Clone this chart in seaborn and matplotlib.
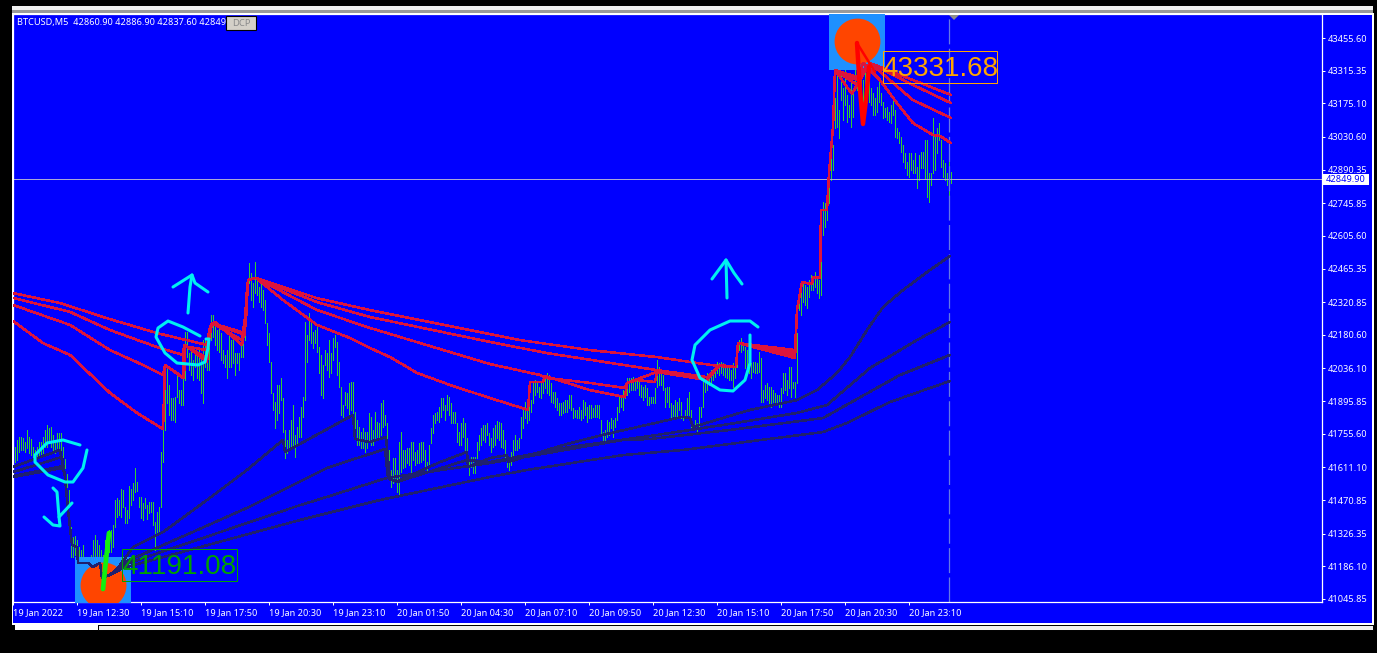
import numpy as np
import pandas as pd
import matplotlib
matplotlib.use("Agg")
import matplotlib.pyplot as plt
from matplotlib.patches import Rectangle, Polygon
from matplotlib.transforms import Affine2D
import seaborn as sns

# M5 bars, one per 5 minutes
HIGHS = [
    41673,41699,41729,41742,41742,41737,41720,41772,41742,41733,41699,41686,41699,41720,41720,41742,41772,41793,41780,41785,41750,41720,41759,41759,41759,41699,41647,41583,41514,41355,41312,41316,41299,
    41269,41256,41278,41226,41226,41222,41235,41299,41320,41299,41278,41256,41235,41299,41320,41342,41342,41363,41471,41480,41471,41518,41514,41441,41428,41531,41518,41544,41609,41549,41484,41484,41458,41480,41449,41462,41462,41462,41376,41419,41441,41677,41772,42051,42042,41965,
    41909,41909,41913,42008,41943,41943,42008,42193,42193,42102,
    42115,42072,42115,42102,42128,42085,42158,42158,42128,42167,
    42266,42266,42236,42201,42214,42188,42115,42094,42115,42188,
    42158,42171,42102,42102,42102,42158,42171,42300,42403,42489,
    42446,42403,42493,42429,42386,42425,42373,42330,42231,42188,
    42064,41931,41892,41965,41965,41995,41909,41772,41729,41772,
    41815,41879,41750,41785,41827,41870,41913,42236,
    42180,42274,42236,42193,42201,42214,42128,42094,42051,42115,
    42102,42158,42102,42167,42180,42150,42064,41956,41879,41935,
    41931,41974,41978,41978,41849,41815,41785,41763,41780,41763,
    41763,41845,41827,41772,41849,41806,41802,41888,41900,41836,
    41802,41686,41600,41651,41651,41600,41720,41763,41686,41686,
    41694,41694,41720,41720,41677,41686,41716,41720,41720,41686,
    41634,41707,41780,41836,41845,41849,41870,41909,41909,41879,
    41922,41913,41888,41849,41849,41802,41763,41802,41823,41802,
    41737,41643,41656,41656,41656,41720,41750,41780,41793,41793,
    41802,41759,
    41737,41780,41793,41810,41806,41802,41772,41729,41656,41651,
    41677,41729,41750,41729,41737,41827,41866,41892,41858,41879,
    41900,41978,41986,41974,41956,41978,41974,42008,42017,42008,
    41974,41935,41935,41909,41888,41888,41892,41900,41900,41922,
    41922,41866,41858,41858,41870,41858,41900,41892,41870,41879,
    41879,41866,41879,41879,41879,41815,41763,41772,41815,41806,
    41823,41815,41823,41870,41922,41909,41943,41974,41995,41995,
    41995,41999,41995,41995,41978,41965,41956,41965,41952,41913,
    41913,41913,41952,42072,42042,42017,42008,41952,41956,41956,
    41888,41879,41900,41892,41909,41892,41827,41858,41909,41935,
    41858,41793,41815,41802,41870,41870,41999,41978,42017,42017,
    42029,42021,42051,42064,42060,42064,42060,42051,42038,42038,
    42029,42060,42042,42115,42158,42167,42150,42128,42115,42115,
    42060,42064,42064,42060,42107,42081,41943,41965,41974,41956,
    41956,41943,41931,41922,41922,41952,42017,42017,41986,42042,
    42042,41978,41978,
    42188,42364,42373,42407,42395,42386,42416,42437,42429,42450,
    42425,42416,42575,42751,42747,42768,42876,42996,42996,43198,
    43310,43146,43310,43241,43318,43211,43168,43275,43219,43331,
    43348,43348,43318,43275,43305,43331,43288,43241,43219,43198,
    43245,43267,43219,43181,43155,43159,43138,43168,43198,43146,
    43069,43052,43030,42996,42961,42923,42961,42961,42932,42961,
    42901,42953,42966,42966,43017,43017,42876,42876,43112,43039,
    43069,43090,43017,42932,42919,42876,42932,42880,
]
LOWS = [
    41621,41634,41643,41677,41686,41686,41677,41694,41673,41664,41643,41621,41651,41656,41656,41673,41699,41699,41720,41699,41686,41673,41686,41677,41673,41651,41609,41527,41441,41226,41226,41235,41226,
    41192,41201,41201,41201,41192,41192,41192,41222,41226,41201,41170,41149,41127,41213,41235,41248,41248,41269,41355,41398,41407,41398,41441,41372,41372,41394,41449,41471,41505,41510,41441,41394,41385,41436,41389,41415,41419,41363,41256,41329,41333,41441,41634,41772,41888,41836,
    41815,41815,41806,41913,41888,41879,41879,41986,42085,42029,
    42008,41986,42042,41995,41986,41931,41888,42042,42029,42029,
    42158,42171,42137,42115,42107,42072,42060,42042,41995,42042,
    42042,42060,42008,42060,42029,42085,42085,42158,42287,42403,
    42330,42300,42360,42352,42322,42300,42287,42231,42137,42064,
    41931,41858,41780,41815,41845,41900,41763,41651,41673,41686,
    41699,41699,41656,41716,41742,41742,41827,41900,
    42064,42158,42145,42124,42145,42107,42017,41922,41909,42051,
    42029,41999,42017,42072,42128,42008,41956,41836,41827,41879,
    41866,41836,41858,41836,41737,41707,41707,41694,41694,41677,
    41694,41720,41707,41707,41737,41729,41742,41750,41785,41793,
    41686,41587,41527,41544,41557,41505,41492,41591,41609,41613,
    41630,41621,41591,41643,41621,41630,41630,41634,41643,41609,
    41591,41613,41716,41759,41802,41815,41806,41827,41858,41815,
    41858,41836,41802,41802,41802,41720,41707,41707,41742,41677,
    41643,41578,41613,41587,41587,41651,41686,41707,41729,41720,
    41750,41707,
    41677,41699,41707,41737,41729,41699,41694,41656,41613,41600,
    41621,41651,41686,41686,41694,41737,41780,41823,41802,41815,
    41849,41888,41922,41935,41913,41909,41931,41952,41931,41922,
    41892,41888,41870,41858,41836,41836,41845,41849,41849,41866,
    41858,41823,41827,41823,41823,41815,41823,41836,41806,41823,
    41823,41827,41827,41827,41823,41750,41720,41729,41742,41750,
    41780,41742,41785,41815,41849,41870,41858,41909,41922,41935,
    41943,41943,41943,41952,41922,41913,41900,41913,41879,41879,
    41888,41888,41888,41956,41965,41965,41943,41870,41892,41870,
    41823,41823,41827,41827,41858,41823,41815,41823,41836,41836,
    41785,41772,41780,41759,41785,41827,41870,41935,41943,41965,
    41974,41986,41999,42017,42008,42017,42008,41999,41995,41986,
    41986,41956,41995,42042,42115,42107,42115,42038,42029,42017,
    41995,42021,42017,42017,42021,41892,41892,41909,41900,41879,
    41870,41892,41879,41879,41870,41870,41931,41943,41922,41952,
    41913,41952,41913,
    41974,42287,42266,42322,42309,42296,42343,42373,42373,42386,
    42360,42339,42352,42609,42644,42674,42747,42846,42889,43069,
    43073,43026,43189,43103,43168,43095,43116,43073,43116,43241,
    43232,43232,43219,43176,43176,43181,43181,43168,43125,43125,
    43138,43181,43168,43112,43116,43103,43095,43090,43125,43030,
    43026,43004,42966,42923,42897,42867,42858,42889,42876,42876,
    42811,42846,42897,42897,42854,42772,42751,42824,42876,42889,
    42961,43017,42901,42858,42846,42824,42760,42833,
]

# moving averages (bar number, price) at their corners
RED_TAIL_I = [392,394.5,399.5,400,403.5,404,407,408,410,411]
RED_TAIL_P = [42287,42407,42399,42429,42425,42717,42717,42876,43073,43318]

RED_A_I = [0,23.5,48.5,72,97,99.5,116,116.5,117.5,121.5,152,178.5,238.5,253.5,288.5,322,338.5,352.5,361.5,362.5,391] + RED_TAIL_I + [422,428.5,450,469]
RED_A_P = [42360,42317,42248,42188,42137,42231,42188,42330,42416,42425,42338,42287,42184,42158,42115,42085,42064,42047,42042,42145,42115] + RED_TAIL_P + [43288,43348,43275,43211]
RED_B_I = [0,28.5,48.5,72,85,85.5,97,99.5,116,116.5,117.5,121.5,152,178.5,238.5,267,322,347,353.5,361.5,362.5,391] + RED_TAIL_I + [422,428.5,450,469]
RED_B_P = [42339,42279,42201,42128,42094,42132,42115,42231,42180,42330,42416,42425,42321,42257,42150,42102,42029,41999,42051,42042,42145,42107] + RED_TAIL_P + [43275,43348,43254,43176]
RED_C_I = [0,28.5,48.5,65,75,76,85,85.5,97,98,99.5,114.5,116.5,117.5,121.5,152,178.5,238.5,263.5,267,288.5,306,307,322,347,353.5,361.5,362.5,391] + RED_TAIL_I + [422,428.5,450,469]
RED_C_P = [42309,42223,42115,42051,42008,42051,41995,42137,42081,42201,42231,42158,42287,42416,42425,42287,42210,42055,42008,41995,41974,41952,41974,42021,41986,42051,42042,42145,42094] + RED_TAIL_P + [43254,43348,43189,43112]
RED_D_I = [0,15,28.5,48.5,62,75,76,85.5,86,97,98.5,101,114.5,116.5,117.5,121.5,135,152,168.5,178.5,188.5,202,218.5,238.5,257.5,258.5,265,266,288.5,306,307,312,321,322,347,353.5,361.5,362.5,391] + RED_TAIL_I + [419.5,422,425,433.5,442,450,460,463.5,469]
RED_D_P = [42240,42145,42094,41931,41845,41776,42051,41995,42137,42064,42214,42236,42137,42244,42416,42425,42330,42223,42167,42124,42085,42017,41965,41909,41858,41978,41978,42004,41943,41913,41974,41986,41978,42021,41986,42051,42042,42145,42081] + RED_TAIL_P + [43215,43254,43348,43275,43176,43090,43039,43035,43004]

DARK_DROP_I = [26,27.5,29.5,32,32.5,37.5,40,43.5,44.5,48.5]
DARK_DROP_P = [41570,41428,41278,41269,41201,41201,41183,41201,41136,41149]

DARK_A_I = [0,23.5] + DARK_DROP_I + [51,60,75,97,117,135,136,170,171,178.5,186.5,188.5,192.5,213.5,227,227.5,238.5,247,247.5,275,294.5,334.5,338.5,340,368.5,392,402,412,418.5,427,435,445,457,468.5]
DARK_A_P = [41613,41686] + DARK_DROP_P + [41162,41269,41333,41471,41600,41729,41677,41836,41733,41720,41742,41557,41553,41634,41677,41613,41651,41664,41634,41707,41750,41828,41823,41785,41858,41900,41943,42017,42085,42201,42300,42373,42450,42519]
DARK_B_I = [0,24.5] + DARK_DROP_I + [55,117,125,157,186,187.5,192,227,238.5,278.5,318.5,358.5,392,407,428.5,452,468.5]
DARK_B_P = [41591,41656] + DARK_DROP_P + [41201,41437,41471,41609,41690,41566,41549,41643,41634,41699,41746,41798,41845,41879,42038,42158,42236]
DARK_C_I = [0,25] + DARK_DROP_I + [55,143.5,152,187,238.5,305,318.5,358.5,405,418.5,443.5,468.5]
DARK_C_P = [41574,41617] + DARK_DROP_P + [41192,41449,41471,41566,41630,41729,41733,41772,41823,41888,42008,42094]
DARK_D_I = [0,25] + DARK_DROP_I + [55,143.5,183.5,238.5,257,305,335,405,417,438.5,468.5]
DARK_D_P = [41570,41609] + DARK_DROP_P + [41179,41385,41471,41570,41600,41664,41686,41763,41802,41892,41982]

PRICE_TICKS = [43455.60,43315.35,43175.10,43030.60,42890.35,42745.85,42605.60,42465.35,42320.85,42180.60,42036.10,41895.85,41755.60,41611.10,41470.85,41326.35,41186.10,41045.85]
TIME_LABELS = ["19 Jan 2022","19 Jan 12:30","19 Jan 15:10","19 Jan 17:50","19 Jan 20:30","19 Jan 23:10","20 Jan 01:50","20 Jan 04:30","20 Jan 07:10","20 Jan 09:50","20 Jan 12:30","20 Jan 15:10","20 Jan 17:50","20 Jan 20:30","20 Jan 23:10"]
LAST_PRICE = 42849.90
LOW_MARK = (45, 41106)
HIGH_MARK = (422, 43443)
LOW_BOX = (45, 41104)
HIGH_BOX = (422, 43440)

BLUE = "#0000ff"
GREEN = "#32cd32"
RED = "#dc143c"
DARK = "#20206e"
CYAN = "#00f0f0"
sns.set_theme(style="ticks")
plt.rcParams["font.family"] = ["Noto Sans", "DejaVu Sans"]

assert len(HIGHS) == len(LOWS)
fig = plt.figure(figsize=(13.77, 6.53), dpi=100, facecolor="black")
px = Affine2D().scale(1, -1).translate(0, 653)

# window around the chart, kept behind the axes
fig.add_artist(Rectangle((12, 6), 1361, 8, transform=px, fc="#f0f0f0", ec="none", zorder=-5))
fig.add_artist(Rectangle((12, 10), 1361, 3, transform=px, fc="#9a9a9a", ec="none", zorder=-5))
fig.add_artist(Rectangle((12, 13), 1362, 612, transform=px, fc="white", ec="none", zorder=-5))
fig.add_artist(Rectangle((13, 15), 1359, 608, transform=px, fc=BLUE, ec="none", zorder=-4))
fig.add_artist(Rectangle((15, 625), 83, 5, transform=px, fc="white", ec="none", zorder=-5))
fig.add_artist(Rectangle((98, 625), 1275, 5, transform=px, fc="#efefef", ec="black", lw=0.7, zorder=-5))

ax = fig.add_axes([13 / 1377, 1 - 602 / 653, 1309 / 1377, 588 / 653], facecolor=BLUE)

df_bars = pd.DataFrame({
    "bar": np.repeat(np.arange(len(HIGHS)), 2),
    "price": np.column_stack([LOWS, HIGHS]).ravel(),
})
sns.lineplot(data=df_bars, x="bar", y="price", units="bar", estimator=None, color=GREEN,
             linewidth=0.72, antialiased=False, ax=ax, zorder=2)

# highlighted extremes
for (i, p), (bi, bp) in [(LOW_MARK, LOW_BOX), (HIGH_MARK, HIGH_BOX)]:
    ax.scatter([bi], [bp], marker="s", s=1570, color="#1e90ff", linewidths=0, zorder=3)
    ax.scatter([i], [p], marker="o", s=1090, color="#ff4500", linewidths=0, zorder=3.1)


def draw_ma(xs, ys, color):
    df = pd.DataFrame({"bar": xs, "price": ys})
    sns.lineplot(data=df, x="bar", y="price", sort=False, estimator=None, color=color,
                 linewidth=1.1, antialiased=False, ax=ax, zorder=4)


for xs, ys in [(DARK_A_I, DARK_A_P), (DARK_B_I, DARK_B_P), (DARK_C_I, DARK_C_P), (DARK_D_I, DARK_D_P)]:
    draw_ma(xs, ys, DARK)
for xs, ys in [(RED_A_I, RED_A_P), (RED_B_I, RED_B_P), (RED_C_I, RED_C_P), (RED_D_I, RED_D_P)]:
    draw_ma(xs, ys, RED)

ax.axhline(LAST_PRICE, color="#a8a8d8", lw=0.72, zorder=2.5)
ax.axvline(468, color="#6478e6", lw=0.9, dashes=(20, 3.5), zorder=2.5)

ax.set_xlim(0, 654.5)
ax.set_ylim(41032.9, 43558.7)
ax.set_xlabel("")
ax.set_ylabel("")
ax.yaxis.tick_right()
ax.set_yticks(PRICE_TICKS, [f"{v:.2f}" for v in PRICE_TICKS])
ax.set_xticks(np.arange(len(TIME_LABELS)) * 32, TIME_LABELS, ha="left")
ax.tick_params(axis="both", colors="white", length=2.5, width=0.72, labelsize=6.6, pad=2)
for s in ax.spines.values():
    s.set_color("white")
    s.set_linewidth(0.9)
    s.set_visible(True)

# hand drawn notes and the objects lying on top of the chart
notes = [
    [(80,445),(63,440),(47,443),(35,455),(35,462),(48,475),(65,482),(73,482),(83,468),(87,450)],
    [(53,488),(57,492),(59,517),(72,503)],
    [(44,517),(53,525),(60,526),(59,517)],
    [(200,336),(183,327),(168,321),(158,328),(156,337),(165,353),(177,363),(198,365),(205,362),(208,348),(209,339),(206,339)],
    [(188,313),(190,287),(192,275)],
    [(173,287),(192,275),(195,283),(208,292)],
    [(758,327),(750,321),(730,321),(710,330),(695,345),(692,360),(700,378),(720,390),(733,391),(745,380),(750,363),(750,335)],
    [(727,298),(726,260)],
    [(712,279),(726,260),(734,273),(742,284)],
]
for stroke in notes:
    xy = np.array(stroke)
    fig.add_artist(plt.Line2D(xy[:, 0], xy[:, 1], transform=px, color=CYAN, lw=2.2, solid_capstyle="round"))
fig.add_artist(plt.Line2D([103, 106, 109], [589, 560, 533], transform=px, color="#10f010", lw=3.4))
fig.add_artist(plt.Line2D([857, 860, 863, 866, 869], [43, 90, 124, 100, 67], transform=px, color="#ff0000", lw=3.2))
fig.add_artist(plt.Line2D([857, 875], [43, 72], transform=px, color="#ff0000", lw=1.8))

for x0, y0, w, h, txt, col in [(883, 51, 114, 32, "43331.68", "#ffa500"), (122, 549, 115, 32, "41191.08", "#00a000")]:
    fig.add_artist(Rectangle((x0 + 0.5, y0 + 0.5), w, h, transform=px, fc="none", ec=col, lw=0.72, snap=False))
    fig.text((x0 + w / 2) / 1377, 1 - (y0 + h / 2 + 2) / 653, txt, color=col, fontsize=20,
             family="Liberation Sans", ha="center", va="center")

fig.text(17 / 1377, 1 - 22 / 653, "BTCUSD,M5  42860.90 42886.90 42837.60 42849", color="white",
         fontsize=6.6, va="center")
fig.add_artist(Rectangle((226, 16), 30, 14, transform=px, fc="#d4d0c8", ec="black", lw=0.8, zorder=5))
fig.text(241 / 1377, 1 - 23 / 653, "DCP", color="#8a8a8a", fontsize=6.8, ha="center", va="center", zorder=6)
fig.add_artist(Polygon([(949, 15), (959, 15), (954, 20)], transform=px, fc="#8c8c8c", ec="none"))

fig.add_artist(Rectangle((1323, 174), 46, 11, transform=px, fc="white", ec="none", zorder=5))
fig.text(1346 / 1377, 1 - 179.5 / 653, f"{LAST_PRICE:.2f}", color=BLUE, fontsize=6.6, ha="center", va="center", zorder=6)

fig.savefig("out.png", dpi=100, facecolor="black")
